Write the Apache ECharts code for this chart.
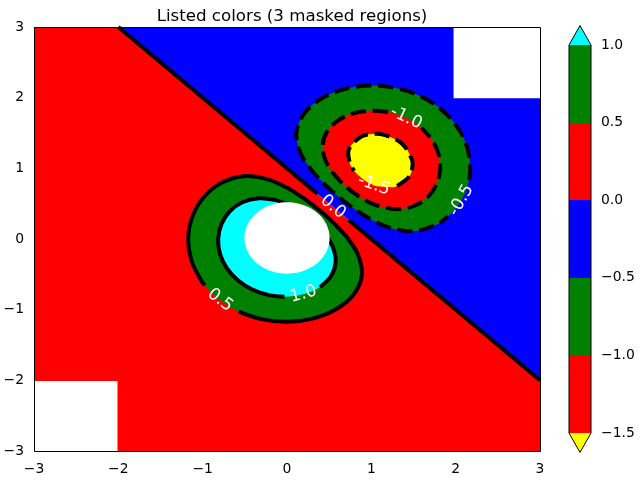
<!DOCTYPE html>
<html><head><meta charset="utf-8">
<script src="https://cdn.jsdelivr.net/npm/echarts@6/dist/echarts.min.js"></script>
<style>html,body{margin:0;padding:0;background:#fff}#c{width:640px;height:480px}</style>
</head><body><div id="c"></div>
<script>
// ---------- data ----------
const xRange = [-3, 3];
const yRange = [-3, 3];
const levels = [-1.5, -1, -0.5, 0, 0.5, 1];
const bandColors = ['#ff0000', '#008000', '#0000ff', '#ff0000', '#008000'];
const underColor = '#ffff00';
const overColor = '#00ffff';

// zero contour (straight), label gap between index 1 and 3, label at index 2
const zeroPath = [[-2, 3], [0.36, 0.64], [0.545, 0.455], [0.73, 0.27], [3, -2]];

// closed contours: line drawn from first point to point (n - hidden - 1); the rest lie under the label
const ring05 = [[-0.570,-1.028],[-0.304,-1.134],[0,-1.172],[0.302,-1.126],[0.576,-0.998],[0.788,-0.788],[0.888,-0.513],[0.843,-0.226],[0.725,0],[0.606,0.162],[0.498,0.288],[0.395,0.395],[0.288,0.498],[0.162,0.606],[0,0.725],[-0.226,0.843],[-0.513,0.888],[-0.788,0.788],[-0.998,0.576],[-1.126,0.302],[-1.172,0],[-1.134,-0.304],[-1.018,-0.588],[-0.974,-0.657],[-0.794,-0.866]];
const ring10 = [[0.392,-0.679],[0.523,-0.523],[0.577,-0.333],[0.554,-0.149],[0.493,0],[0.422,0.113],[0.352,0.203],[0.280,0.280],[0.203,0.352],[0.113,0.422],[0,0.493],[-0.149,0.554],[-0.333,0.577],[-0.523,0.523],[-0.679,0.392],[-0.778,0.209],[-0.816,0],[-0.794,-0.213],[-0.714,-0.412],[-0.583,-0.583],[-0.412,-0.714],[-0.213,-0.794],[-0.029,-0.817],[0.195,-0.782]];
const ringM05 = [[2.158,0.837],[2.172,1],[2.134,1.304],[2.018,1.588],[1.831,1.831],[1.588,2.018],[1.304,2.134],[1,2.172],[0.698,2.126],[0.424,1.998],[0.212,1.788],[0.112,1.513],[0.157,1.226],[0.275,1],[0.394,0.838],[0.502,0.713],[0.605,0.605],[0.713,0.502],[0.838,0.394],[1,0.275],[1.226,0.157],[1.513,0.112],[1.788,0.212],[1.906,0.318],[1.998,0.424],[2.067,0.547],[2.126,0.698]];
const ringM10 = [[1.199,1.797],[1,1.816],[0.792,1.778],[0.608,1.679],[0.477,1.523],[0.423,1.333],[0.446,1.149],[0.507,1],[0.578,0.887],[0.648,0.797],[0.720,0.720],[0.797,0.648],[0.887,0.578],[1,0.507],[1.149,0.446],[1.333,0.423],[1.523,0.477],[1.679,0.608],[1.778,0.792],[1.816,1],[1.794,1.213],[1.714,1.412],[1.593,1.573],[1.412,1.714]];
const ringM15 = [[1.306,0.752],[1.448,0.880],[1.485,1],[1.480,1.129],[1.357,1.357],[1.129,1.480],[1,1.485],[0.880,1.448],[0.733,1.267],[0.746,1.068],[0.777,1],[0.796,0.964],[0.808,0.949],[0.873,0.873],[0.949,0.808],[1.029,0.761],[1.068,0.746],[1.267,0.733]];

const ringLevels = [0.5, 1, -0.5, -1, -1.5];
const ringPaths = [ring05, ring10, ringM05, ringM10, ringM15];
const ringHidden = [1, 1, 3, 1, 6];
const ringLabelIdx = [24, 23, 25, 23, 15];

// masked regions: rectangles [x0, y0, x1, y1] and a circle [cx, cy, r]
const maskRects = [[-3, -3, -2.01, -2.01], [1.975, 1.99, 3, 3]];
const maskCircle = [0, 0.015, 0.505];

// ---------- drawing ----------
const FONT = 'DejaVu Sans';
const LINE_W = 4;
const DASH = [15.4, 6.7];
const SMOOTH = 0.35;

function minus(s) { return String(s).replace('-', '\u2212'); }

function regionColor(level) {
  const i = levels.indexOf(level);
  if (level > 0) return i === levels.length - 1 ? overColor : bandColors[i];
  return i === 0 ? underColor : bandColors[i - 1];
}

function labelEl(api, text, at, from, to) {
  const p = api.coord(at), a = api.coord(from), b = api.coord(to);
  let ang = Math.atan2(b[1] - a[1], b[0] - a[0]);
  if (ang > Math.PI / 2) ang -= Math.PI;
  if (ang < -Math.PI / 2) ang += Math.PI;
  return {
    type: 'text', x: p[0], y: p[1], rotation: -ang,
    style: { text: text, fill: '#ffffff', fontSize: 17, fontFamily: FONT,
      align: 'center', verticalAlign: 'middle', textAlign: 'center', textVerticalAlign: 'middle' }
  };
}

function renderMain(params, api) {
  const C = p => api.coord(p);
  const ch = [];
  const z0 = zeroPath[0], z1 = zeroPath[zeroPath.length - 1];
  const iZero = levels.indexOf(0);
  ch.push({ type: 'polygon', shape: { points: [z0, z1, [xRange[1], yRange[0]], [xRange[0], yRange[0]], [xRange[0], yRange[1]]].map(C) },
    style: { fill: bandColors[iZero] } });
  ch.push({ type: 'polygon', shape: { points: [z0, [xRange[1], yRange[1]], z1].map(C) },
    style: { fill: bandColors[iZero - 1] } });
  ringPaths.forEach((pts, k) => {
    ch.push({ type: 'polygon', shape: { points: pts.map(C), smooth: SMOOTH }, style: { fill: regionColor(ringLevels[k]) } });
  });
  // contour lines
  ch.push({ type: 'polyline', shape: { points: zeroPath.slice(0, 2).map(C) }, style: { fill: null, stroke: '#000', lineWidth: LINE_W } });
  ch.push({ type: 'polyline', shape: { points: zeroPath.slice(3).map(C) }, style: { fill: null, stroke: '#000', lineWidth: LINE_W } });
  ringPaths.forEach((pts, k) => {
    const n = pts.length - ringHidden[k];
    const st = { fill: null, stroke: '#000', lineWidth: LINE_W };
    if (ringLevels[k] < 0) st.lineDash = DASH;
    ch.push({ type: 'polyline', shape: { points: pts.slice(0, n).map(C), smooth: SMOOTH }, style: st });
  });
  // masks
  maskRects.forEach(r => {
    const a = C([r[0], r[3]]), b = C([r[2], r[1]]);
    ch.push({ type: 'rect', shape: { x: a[0], y: a[1], width: b[0] - a[0], height: b[1] - a[1] }, style: { fill: '#ffffff' } });
  });
  const circ = [];
  for (let i = 0; i < 96; i++) {
    const t = i / 96 * Math.PI * 2;
    circ.push(C([maskCircle[0] + maskCircle[2] * Math.cos(t), maskCircle[1] + maskCircle[2] * Math.sin(t)]));
  }
  ch.push({ type: 'polygon', shape: { points: circ }, style: { fill: '#ffffff' } });
  // labels
  ch.push(labelEl(api, (0).toFixed(1), zeroPath[2], zeroPath[1], zeroPath[3]));
  ringPaths.forEach((pts, k) => {
    const n = pts.length - ringHidden[k];
    ch.push(labelEl(api, ringLevels[k].toFixed(1), pts[ringLabelIdx[k]], pts[n - 1], pts[0]));
  });
  // frame
  const tl = C([xRange[0], yRange[1]]), br = C([xRange[1], yRange[0]]);
  const x0 = Math.round(tl[0]) + 0.5, y0 = Math.round(tl[1]) + 0.5, x1 = Math.round(br[0]) + 0.5, y1 = Math.round(br[1]) + 0.5;
  ch.push({ type: 'rect', shape: { x: x0, y: y0, width: x1 - x0, height: y1 - y0 }, style: { fill: null, stroke: '#000', lineWidth: 1 } });
  return { type: 'group', children: ch };
}

function renderBar(params, api) {
  const C = p => api.coord(p);
  const ch = [];
  for (let i = 0; i < bandColors.length; i++) {
    const a = C([0, levels[i]]), b = C([1, levels[i + 1]]);
    const yt = Math.round(b[1]), yb = Math.round(a[1]);
    ch.push({ type: 'rect', shape: { x: a[0], y: yt, width: b[0] - a[0], height: yb - yt }, style: { fill: bandColors[i] } });
  }
  const lo = levels[0], hi = levels[levels.length - 1];
  const ext = 0.05 * (hi - lo);
  ch.push({ type: 'polygon', shape: { points: [[0, hi], [0.5, hi + ext], [1, hi]].map(C) }, style: { fill: overColor } });
  ch.push({ type: 'polygon', shape: { points: [[0, lo], [0.5, lo - ext], [1, lo]].map(C) }, style: { fill: underColor } });
  ch.push({ type: 'polygon', shape: { points: [[0, hi], [0.5, hi + ext], [1, hi], [1, lo], [0.5, lo - ext], [0, lo]].map(C) },
    style: { fill: null, stroke: '#000', lineWidth: 1 } });
  return { type: 'group', children: ch };
}

const axisText = { color: '#000', fontFamily: FONT, fontSize: 13.9 };
const tick = { show: true, inside: false, length: 5, lineStyle: { color: '#000', width: 1 } };

const option = {
  animation: false,
  backgroundColor: '#ffffff',
  title: { text: 'Listed colors (3 masked regions)', left: 287, top: 3, textAlign: 'center',
    textStyle: { fontFamily: FONT, fontSize: 16.67, fontWeight: 'normal', color: '#000' } },
  grid: [
    { left: 34, top: 27, width: 506, height: 424, containLabel: false, outerBoundsMode: 'none' },
    { left: 569, top: 45, width: 22, height: 388, containLabel: false, outerBoundsMode: 'none' }
  ],
  xAxis: [
    { type: 'value', gridIndex: 0, min: xRange[0], max: xRange[1], interval: 1,
      axisLine: { show: false }, axisTick: tick, splitLine: { show: false },
      axisLabel: Object.assign({ margin: 11, formatter: v => minus(v) }, axisText) },
    { type: 'value', gridIndex: 1, min: 0, max: 1, show: false }
  ],
  yAxis: [
    { type: 'value', gridIndex: 0, min: yRange[0], max: yRange[1], interval: 1,
      axisLine: { show: false }, axisTick: tick, splitLine: { show: false },
      axisLabel: Object.assign({ margin: 10, formatter: v => minus(v) }, axisText) },
    { type: 'value', gridIndex: 1, position: 'right', min: levels[0], max: levels[levels.length - 1], interval: 0.5,
      axisLine: { show: false }, axisTick: tick, splitLine: { show: false },
      axisLabel: Object.assign({ margin: 10, formatter: v => minus(v.toFixed(1)) }, axisText) }
  ],
  series: [
    { type: 'custom', coordinateSystem: 'cartesian2d', xAxisIndex: 0, yAxisIndex: 0, silent: true,
      data: [[0, 0]], renderItem: renderMain, z: 2 },
    { type: 'custom', coordinateSystem: 'cartesian2d', xAxisIndex: 1, yAxisIndex: 1, silent: true,
      data: [[0.5, 0]], renderItem: renderBar, z: 2 }
  ]
};

const chart = echarts.init(document.getElementById('c'), null, { renderer: 'canvas' });
chart.setOption(option);
</script>
</body></html>
